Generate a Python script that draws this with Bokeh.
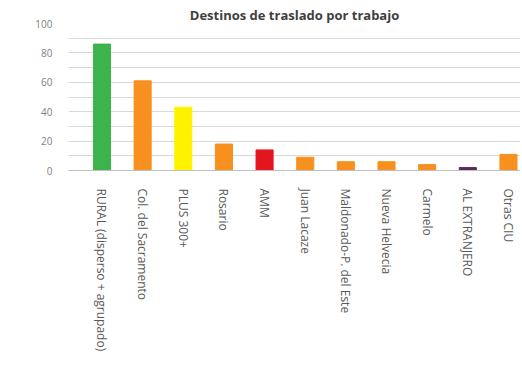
from bokeh.plotting import figure
from bokeh.models import ColumnDataSource, Range1d, FixedTicker, SingleIntervalTicker
from bokeh.embed import file_html
from bokeh.resources import INLINE

categories = ["RURAL (disperso + agrupado)", "Col. del Sacramento", "PLUS 300+", "Rosario",
              "AMM", "Juan Lacaze", "Maldonado-P. del Este", "Nueva Helvecia", "Carmelo",
              "AL EXTRANJERO", "Otras CIU"]
values = [86, 61, 43, 18, 14, 9, 6, 6, 4, 2, 11]
colors = ["#3cb44b", "#f7901e", "#fff200", "#f7901e", "#e3161f", "#f7901e", "#f7901e",
          "#f7901e", "#f7901e", "#5b2c5b", "#f7901e"]
y_ticks = [0, 20, 40, 60, 80, 100]

xpos = [i + 0.5 for i in range(len(categories))]
src = ColumnDataSource(dict(x=xpos, top=values, color=colors))

p = figure(width=520, height=366, output_backend="svg", toolbar_location=None,
           x_range=Range1d(-0.324, 10.796), y_range=Range1d(0, 100),
           min_border_left=68, min_border_right=0, min_border_top=23, min_border_bottom=196)
p.title.text = "Destinos de traslado por trabajo"
p.title.align = "center"
p.title.text_font = "Open Sans"
p.title.text_font_size = "13px"
p.title.text_color = "#404040"
p.title.text_font_style = "bold"
p.title.standoff = 0
p.title.offset = 0

p.vbar(x="x", top="top", width=0.42, color="color", source=src)

p.outline_line_color = None
p.xgrid.grid_line_color = None
p.ygrid.ticker = SingleIntervalTicker(interval=10)
p.ygrid.grid_line_color = "#d9d9d9"
p.ygrid.grid_line_width = 1

p.yaxis.ticker = FixedTicker(ticks=y_ticks)
p.yaxis.axis_line_color = None
p.yaxis.major_tick_line_color = None
p.yaxis.minor_tick_line_color = None
p.yaxis.major_label_text_font = "Open Sans"
p.yaxis.major_label_text_font_size = "10px"
p.yaxis.major_label_text_color = "#7f7f7f"
p.yaxis.major_label_standoff = 10

p.xaxis.ticker = FixedTicker(ticks=xpos)
p.xaxis.major_label_overrides = {x: c for x, c in zip(xpos, categories)}
p.xaxis.major_label_orientation = "vertical"
p.xaxis.axis_line_color = "#bfbfbf"
p.xaxis.major_tick_line_color = None
p.xaxis.minor_tick_line_color = None
p.xaxis.major_label_text_font = "Open Sans"
p.xaxis.major_label_text_font_size = "12px"
p.xaxis.major_label_text_color = "#595959"
p.xaxis.major_label_standoff = 12

open("out.html", "w").write(file_html(p, INLINE))
